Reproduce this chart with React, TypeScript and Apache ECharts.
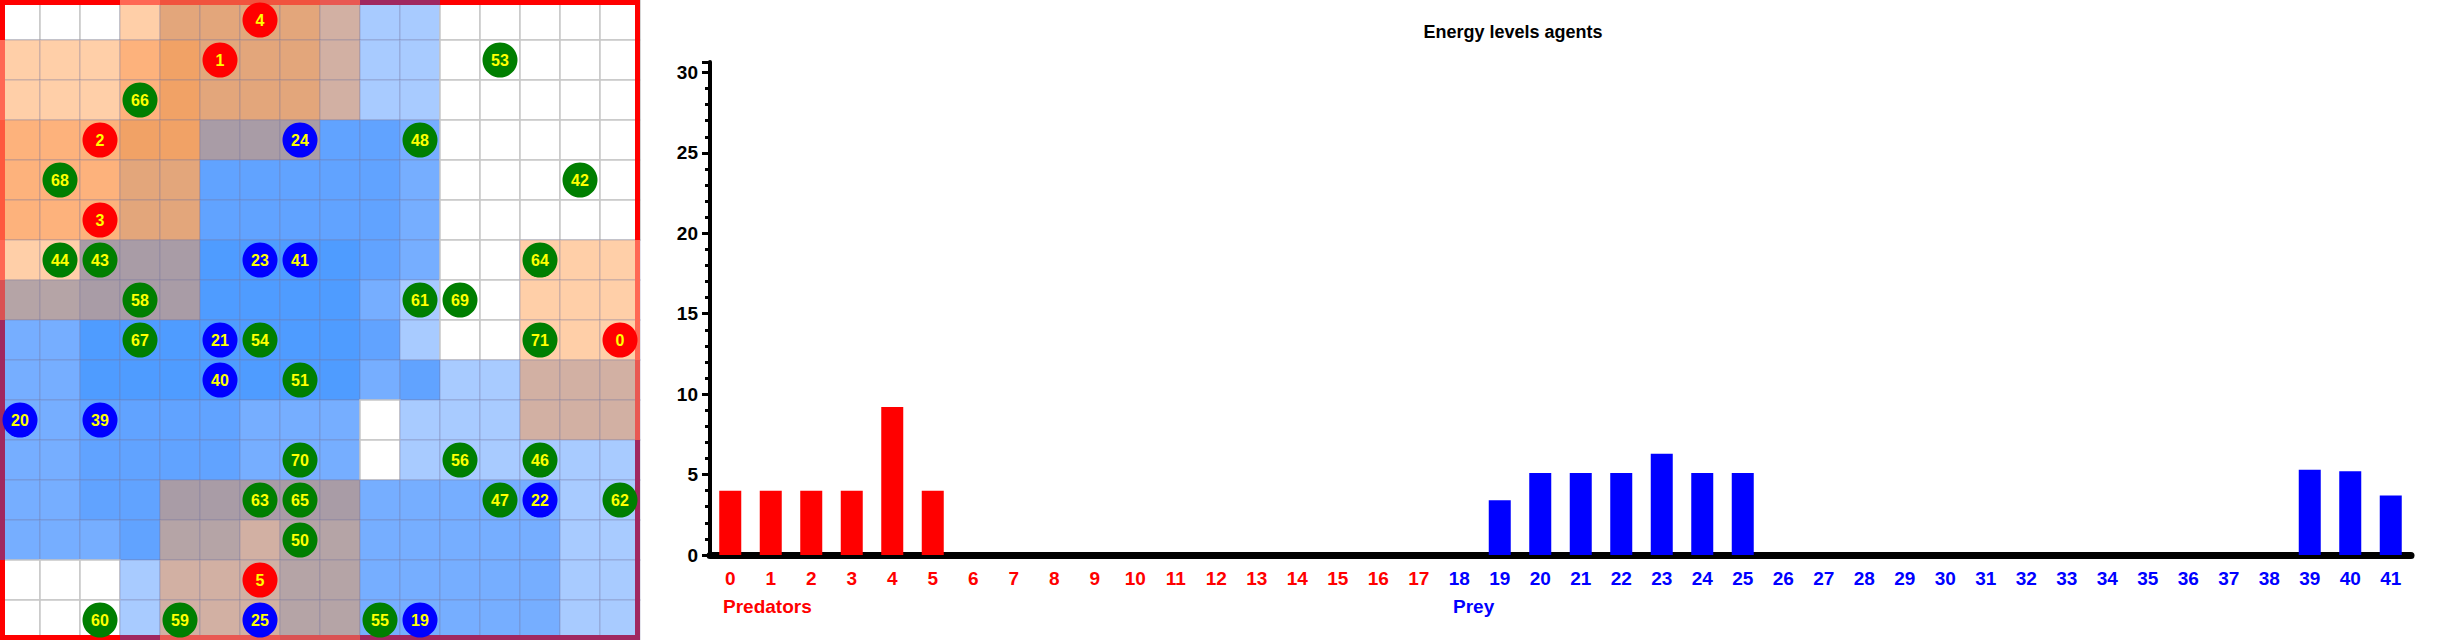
import React, { useEffect, useRef } from "react";
import * as echarts from "echarts";

const categories = Array.from({ length: 42 }, (_, i) => String(i));
const predatorEnergy = [4, 4, 4, 4, 9.2, 4, 0, 0, 0, 0, 0, 0, 0, 0, 0, 0, 0, 0];
const preyEnergy = [0, 3.4, 5.1, 5.1, 5.1, 6.3, 5.1, 5.1, 0, 0, 0, 0, 0, 0, 0, 0, 0, 0, 0, 0, 0, 5.3, 5.2, 3.7];
const yTicks = [0, 5, 10, 15, 20, 25, 30];

const palette: Record<string, string> = {
  W: "#FFFFFF", o: "#FFCFA8", O: "#FDB27C", M: "#F1A266", T: "#E3A67B", P: "#D2B0A3",
  G: "#A99CA6", H: "#B5A4A6", b: "#A8CBFF", B: "#76AEFF", C: "#61A3FF", D: "#4F9CFF",
};
const cellRows = [
  "WWWoTTTTPbbWWWWW",
  "oooOMTTTPbbWWWWW",
  "oooOMTTTPbbWWWWW",
  "OOOMMGGGCCBWWWWW",
  "OOOTTCCCCCBWWWWW",
  "OOOTTCCCCCBWWWWW",
  "ooGGGDDDDCBWWooo",
  "HHGGGDDDDBbWWooo",
  "BBDDDDDDDCbWWooo",
  "BBDDDDDDDBCbbPPP",
  "BBCCCCBBBWbbbPPP",
  "BBCCCCBBBWbbbbbb",
  "BBCCGGGGGBBBBBbb",
  "BBBCHHPHHBBBBBbb",
  "WWWbPPPHHBBBBBbb",
  "WWWbPPPHHBBBBBbb",
];
const predators = [[4, 6, 0], [1, 5, 1], [2, 2, 3], [3, 2, 5], [0, 15, 8], [5, 6, 14]];
const prey = [[24, 7, 3], [23, 6, 6], [41, 7, 6], [21, 5, 8], [40, 5, 9], [20, 0, 10], [39, 2, 10], [22, 13, 12], [25, 6, 15], [19, 10, 15]];
const grass = [[53, 12, 1], [66, 3, 2], [48, 10, 3], [68, 1, 4], [42, 14, 4], [44, 1, 6], [43, 2, 6], [64, 13, 6], [58, 3, 7], [61, 10, 7], [69, 11, 7], [67, 3, 8], [54, 6, 8], [71, 13, 8], [51, 7, 9], [70, 7, 11], [56, 11, 11], [46, 13, 11], [63, 6, 12], [65, 7, 12], [47, 12, 12], [62, 15, 12], [50, 7, 13], [60, 2, 15], [59, 4, 15], [55, 9, 15]];

function mix(a: string, b: string) {
  const p = (h: string, i: number) => parseInt(h.slice(1 + i * 2, 3 + i * 2), 16);
  const c = [0, 1, 2].map((i) => Math.round((p(a, i) + p(b, i)) / 2));
  return "rgb(" + c.join(",") + ")";
}

export default function App() {
  const ref = useRef<HTMLDivElement>(null);
  useEffect(() => {
    document.body.style.margin = "0";
    const chart = echarts.init(ref.current!, null, { renderer: "svg" });
    const cells: any[] = [];
    cellRows.forEach((row, r) => row.split("").forEach((k, c) => cells.push([c, r, k])));
    const edges: any[] = [];
    for (let i = 0; i < 16; i++) {
      edges.push([i, 0, "top", cellRows[0][i]]);
      edges.push([i, 15, "bottom", cellRows[15][i]]);
      edges.push([0, i, "left", cellRows[i][0]]);
      edges.push([15, i, "right", cellRows[i][15]]);
    }
    const agentSeries = (list: number[][], color: string) => ({
      type: "scatter", xAxisIndex: 1, yAxisIndex: 1, symbolSize: 35, z: 5,
      itemStyle: { color, opacity: 1 },
      data: list.map(([id, c, r]) => [c + 0.5, r + 0.5, id]),
      label: { show: true, position: "inside", formatter: (p: any) => String(p.value[2]), color: "#FFFF00", fontWeight: "bold", fontSize: 16, fontFamily: "Liberation Sans" },
    });
    const barData = categories.map((_, i) =>
      i < 18 ? { value: predatorEnergy[i], itemStyle: { color: "#FF0000" } } : { value: preyEnergy[i - 18], itemStyle: { color: "#0000FF" } });
    chart.setOption({
      animation: false,
      title: { text: "Energy levels agents", left: 1508, top: 18, textAlign: "center", textStyle: { fontSize: 18, fontWeight: "bold", color: "#000", fontFamily: "Liberation Sans" } },
      grid: [
        { left: 710, top: 62, width: 1701, height: 493 },
        { left: 0, top: 0, width: 640, height: 640 },
      ],
      xAxis: [
        { type: "category", data: categories, gridIndex: 0,
          axisLine: { lineStyle: { color: "#000", width: 7 } }, axisTick: { show: false },
          axisLabel: { margin: 14, fontSize: 19, fontWeight: "bold", fontFamily: "Liberation Sans Narrow, Liberation Sans", color: (v: any, i: number) => (Number(v) < 18 ? "#FF0000" : "#0000FF"), interval: 0 } },
        { type: "value", gridIndex: 1, min: 0, max: 16, show: false },
      ],
      yAxis: [
        { type: "value", gridIndex: 0, min: 0, max: 30.65, interval: 5, splitLine: { show: false },
          axisLine: { show: true, lineStyle: { color: "#000", width: 4 } },
          axisTick: { show: true, length: 8, lineStyle: { width: 3, color: "#000" } },
          minorTick: { show: true, splitNumber: 5, length: 5, lineStyle: { width: 3, color: "#000" } },
          axisLabel: { fontSize: 19, fontWeight: "bold", color: "#000", fontFamily: "Liberation Sans Narrow, Liberation Sans", margin: 12, formatter: (v: number) => (yTicks.includes(v) ? String(v) : "") } },
        { type: "value", gridIndex: 1, min: 0, max: 16, inverse: true, show: false },
      ],
      series: [
        { type: "bar", data: barData, barWidth: 22, xAxisIndex: 0, yAxisIndex: 0 },
        {
          type: "custom", xAxisIndex: 1, yAxisIndex: 1, data: cells, z: 1,
          renderItem: (params: any, api: any) => {
            const c = api.value(0), r = api.value(1);
            const k = cells[params.dataIndex][2];
            const p0 = api.coord([c, r]), p1 = api.coord([c + 1, r + 1]);
            return { type: "rect", shape: { x: p0[0], y: p0[1], width: p1[0] - p0[0], height: p1[1] - p0[1] },
              style: { fill: palette[k], stroke: k === "W" ? "#C8C8C8" : "rgba(120,120,160,0.25)", lineWidth: 1.5 } };
          },
        },
        {
          type: "custom", xAxisIndex: 1, yAxisIndex: 1, data: edges, z: 3,
          renderItem: (params: any, api: any) => {
            const e = edges[params.dataIndex];
            const c = e[0], r = e[1], side = e[2], k = e[3];
            const p0 = api.coord([c, r]), p1 = api.coord([c + 1, r + 1]);
            const t = 5;
            let shape: any;
            if (side === "top") shape = { x: p0[0], y: p0[1], width: p1[0] - p0[0], height: t };
            else if (side === "bottom") shape = { x: p0[0], y: p1[1] - t, width: p1[0] - p0[0], height: t };
            else if (side === "left") shape = { x: p0[0], y: p0[1], width: t, height: p1[1] - p0[1] };
            else shape = { x: p1[0] - t, y: p0[1], width: t, height: p1[1] - p0[1] };
            const color = k === "W" ? "#FF0000" : mix("#FF0000", palette[k] === "#FFFFFF" ? "#FF0000" : (k === "b" || k === "B" || k === "C" || k === "D" ? "#4050C0" : palette[k]));
            return { type: "rect", shape, style: { fill: color } };
          },
        },
        agentSeries(grass, "#007F00"),
        agentSeries(prey, "#0000FF"),
        agentSeries(predators, "#FF0000"),
      ],
      graphic: [
        { type: "text", left: 723, top: 597, style: { text: "Predators", fill: "#FF0000", font: "bold 19px 'Liberation Sans Narrow', 'Liberation Sans'" } },
        { type: "text", left: 1453, top: 597, style: { text: "Prey", fill: "#0000FF", font: "bold 19px 'Liberation Sans Narrow', 'Liberation Sans'" } },
      ],
    });
    return () => chart.dispose();
  }, []);
  return <div ref={ref} style={{ width: 2440, height: 640 }} />;
}
